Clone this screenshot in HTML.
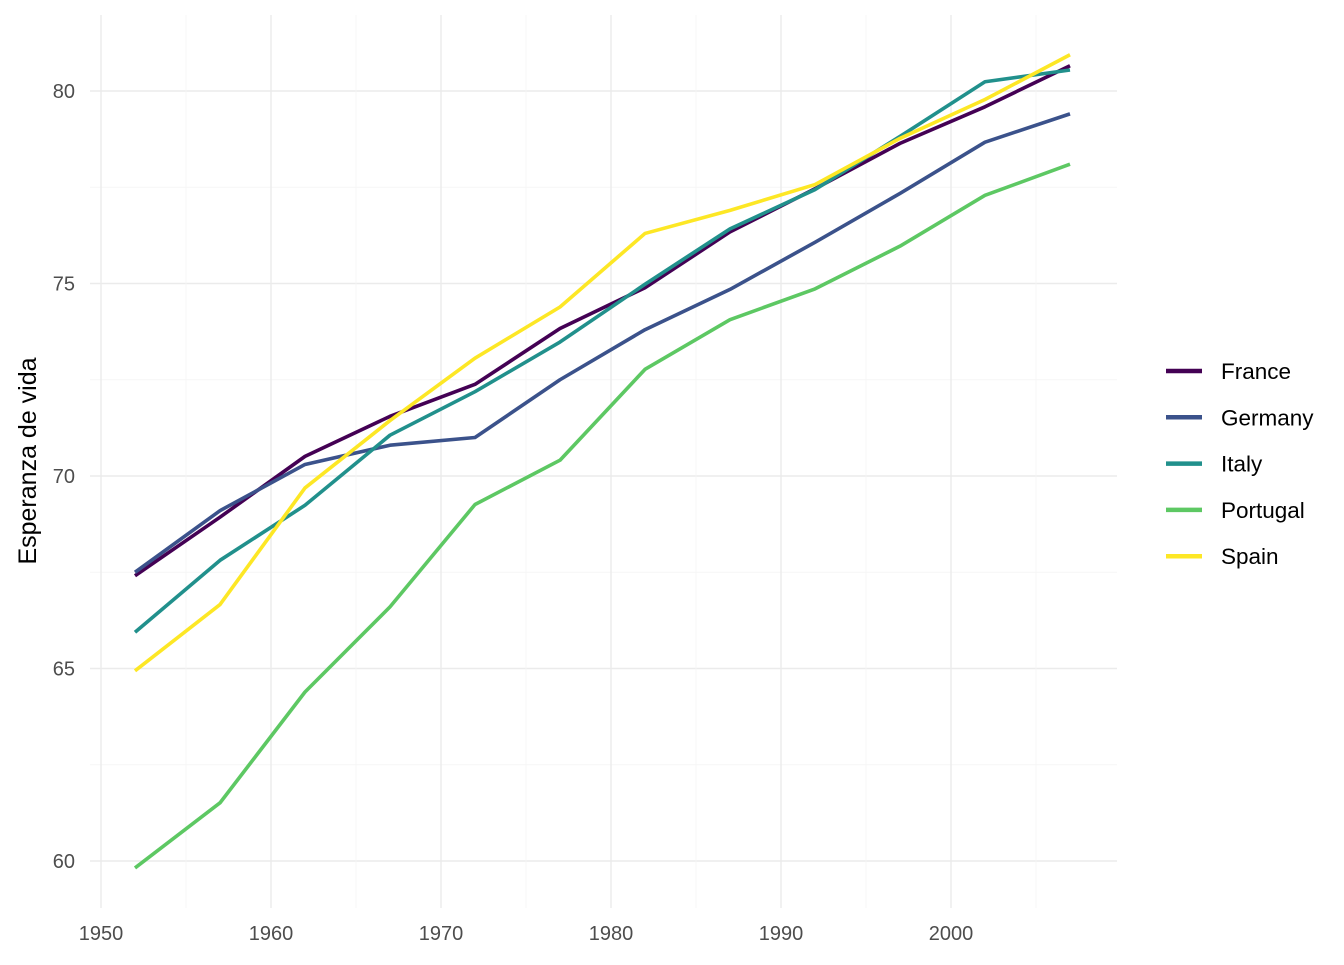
<!DOCTYPE html>
<html><head><meta charset="utf-8"><style>
body{margin:0;background:#fff}
svg text{font-family:"Liberation Sans",Arial,sans-serif}
</style></head><body>
<svg id="s" width="1344" height="960" xmlns="http://www.w3.org/2000/svg">
<rect width="1344" height="960" fill="#fff"/>
<g id="grid"></g>
<g id="lines" fill="none" stroke-width="3.6" stroke-linejoin="round" stroke-linecap="butt"></g>
<g font-size="20" fill="#4d4d4d" id="ticks"></g>
<text transform="translate(36,461) rotate(-90)" text-anchor="middle" font-size="25" fill="#000">Esperanza de vida</text>
<g id="leg" font-size="22.5" fill="#000"></g>
</svg>
<script>
var ns="http://www.w3.org/2000/svg";
function X(y){return 101+(y-1950)*17}
function Y(v){return 91+(80-v)*38.5}
function el(p,t,a,txt){var e=document.createElementNS(ns,t);for(var k in a)e.setAttribute(k,a[k]);if(txt)e.textContent=txt;document.getElementById(p).appendChild(e);return e}
var L=90,R=1117,T=15,B=908;
for(var v=60;v<=80;v+=2.5){var maj=v%5==0;el('grid','line',{x1:L,x2:R,y1:Y(v),y2:Y(v),stroke:maj?'#ebebeb':'#f5f5f5','stroke-width':maj?1.4:0.8});}
for(var v=57.5;v<=82.5;v+=2.5){if(Y(v)>T&&Y(v)<B&&v%5!=0)el('grid','line',{x1:L,x2:R,y1:Y(v),y2:Y(v),stroke:'#f5f5f5','stroke-width':0.8});}
for(var y=1950;y<=2010;y+=5){var maj=y%10==0;if(X(y)<R)el('grid','line',{x1:X(y),x2:X(y),y1:T,y2:B,stroke:maj?'#ebebeb':'#f5f5f5','stroke-width':maj?1.4:0.8});}
for(var v=60;v<=80;v+=5)el('ticks','text',{x:75,y:Y(v)+7,'text-anchor':'end'},String(v));
for(var y=1950;y<=2000;y+=10)el('ticks','text',{x:X(y),y:940,'text-anchor':'middle'},String(y));
var yrs=[1952,1957,1962,1967,1972,1977,1982,1987,1992,1997,2002,2007];
var D=[
["France","#440154",[67.41,68.93,70.51,71.55,72.38,73.83,74.89,76.34,77.46,78.64,79.59,80.657]],
["Germany","#3B528B",[67.5,69.1,70.3,70.8,71.0,72.5,73.8,74.847,76.07,77.34,78.67,79.406]],
["Italy","#21908C",[65.94,67.81,69.24,71.06,72.19,73.48,74.98,76.42,77.44,78.82,80.24,80.546]],
["Portugal","#5DC863",[59.82,61.51,64.39,66.6,69.26,70.41,72.77,74.06,74.86,75.97,77.29,78.098]],
["Spain","#FDE725",[64.94,66.66,69.69,71.44,73.06,74.39,76.3,76.9,77.57,78.77,79.78,80.941]]];
D.forEach(function(d,i){
 el('lines','polyline',{stroke:d[1],points:d[2].map(function(v,j){return X(yrs[j])+','+Y(v)}).join(' ')});
 var ly=371+i*46.3;
 el('leg','line',{x1:1166,x2:1202,y1:ly,y2:ly,stroke:d[1],'stroke-width':4.5});
 el('leg','text',{x:1221,y:ly+8},d[0]);
});
</script>
</body></html>
